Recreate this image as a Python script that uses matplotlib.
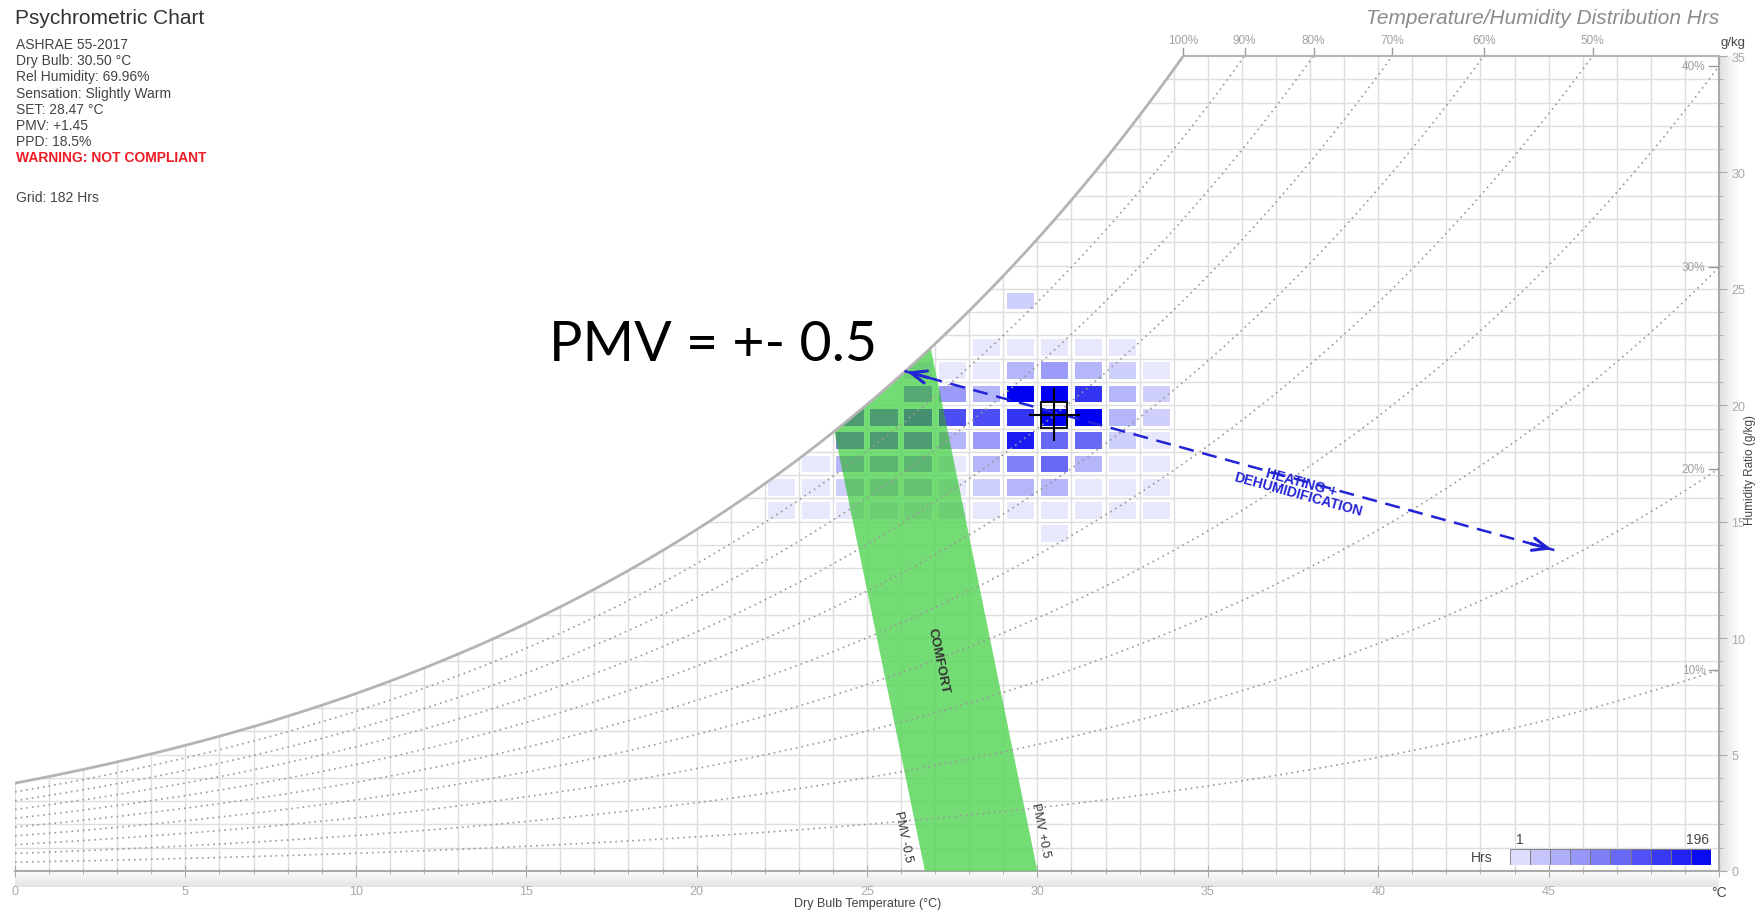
import numpy as np
import matplotlib
matplotlib.use("Agg")
import matplotlib.pyplot as plt
from matplotlib.colors import LinearSegmentedColormap, BoundaryNorm, to_rgb
from matplotlib.patches import Polygon, Rectangle

W_PX, H_PX = 1756, 912
FONT = ["Liberation Sans", "DejaVu Sans"]
plt.rcParams["font.family"] = FONT

# ---- data ----
temp_cols = [22, 23, 24, 25, 26, 27, 28, 29, 30, 31, 32, 33]      # dry bulb bins (degC)
hum_rows = [24, 23, 22, 21, 20, 19, 18, 17, 16, 15, 14]           # humidity ratio bins (g/kg)
hours = [
    [0, 0, 0, 0, 0, 0, 0, 25, 0, 0, 0, 0],
    [0, 0, 0, 0, 0, 0, 0, 0, 0, 0, 0, 0],
    [0, 0, 0, 0, 0, 0, 10, 20, 20, 15, 10, 0],
    [0, 0, 0, 0, 10, 20, 20, 45, 70, 50, 30, 10],
    [0, 0, 0, 0, 70, 60, 40, 190, 185, 140, 55, 25],
    [0, 0, 80, 90, 100, 120, 125, 140, 180, 185, 50, 25],
    [0, 0, 90, 90, 90, 40, 60, 160, 100, 100, 35, 15],
    [0, 15, 45, 45, 45, 15, 50, 85, 100, 40, 15, 15],
    [15, 15, 25, 25, 25, 15, 25, 40, 40, 15, 10, 10],
    [8, 8, 10, 10, 10, 8, 10, 15, 20, 10, 8, 8],
    [0, 0, 0, 0, 0, 0, 0, 0, 15, 0, 0, 0],
]
hrs_min, hrs_max = 1, 196

rh_levels = [0.9, 0.8, 0.7, 0.6, 0.5, 0.4, 0.3, 0.2, 0.1]
top_rh_labels = [1.0, 0.9, 0.8, 0.7, 0.6, 0.5]
side_rh_labels = [0.4, 0.3, 0.2, 0.1]

pmv_minus = [(26.7, 0.0), (24.04, 18.9)]
pmv_plus = [(30.0, 0.0), (26.87, 22.4)]

point_t, point_w = 30.5, 19.6
arrow_start = (26.1, 21.47)
arrow_end = (45.17, 13.78)

info_lines = ["ASHRAE 55-2017", "Dry Bulb: 30.50 \u00b0C", "Rel Humidity: 69.96%",
              "Sensation: Slightly Warm", "SET: 28.47 \u00b0C", "PMV: +1.45", "PPD: 18.5%"]


def w_sat(t):
    pws = 0.61094 * np.exp(17.625 * t / (t + 243.04))
    return 622.0 * pws / (101.325 - pws)


fig = plt.figure(figsize=(W_PX / 100, H_PX / 100), dpi=100)
ax = fig.add_axes([15 / W_PX, 40 / H_PX, 1704 / W_PX, 815 / H_PX])
ax.set_xlim(0, 50)
ax.set_ylim(0, 35)

t_curve = np.linspace(0, 50, 1001)
ws_curve = w_sat(t_curve)
under_sat = Polygon([(0, 0)] + list(zip(t_curve, np.minimum(ws_curve, 35))) + [(50, 0)],
                    closed=True, transform=ax.transData)

# soft shadow right of / below the axes
shade = LinearSegmentedColormap.from_list("shade", ["#e2e2e2", "#ffffff"])
sax = fig.add_axes([1720 / W_PX, 40 / H_PX, 20 / W_PX, 815 / H_PX], zorder=-1)
sax.imshow(np.linspace(0, 1, 50)[None, :], cmap=shade, aspect="auto")
sax.axis("off")
bax = fig.add_axes([15 / W_PX, 24 / H_PX, 1704 / W_PX, 16 / H_PX], zorder=-1)
bax.imshow(np.linspace(1, 0, 50)[:, None], cmap=shade, aspect="auto")
bax.axis("off")
ax.patch.set_alpha(0)

# grid, only under the saturation curve
grid_c = "#dedede"
for t in range(0, 51):
    ax.plot([t, t], [0, min(w_sat(t), 35)], color=grid_c, lw=1, zorder=1)
for w in range(1, 35):
    t0 = np.interp(w, ws_curve, t_curve)
    ax.plot([t0, 50], [w, w], color=grid_c, lw=1, zorder=1)

# comfort zone
green = "#5cd65c"
green_eff = 0.85 * np.array(to_rgb(green)) + 0.15
t_top = np.linspace(pmv_minus[1][0], pmv_plus[1][0], 30)
poly = [pmv_minus[0]] + [(t, w_sat(t)) for t in t_top] + [pmv_plus[0]]
comfort = Polygon(poly, closed=True, facecolor=green, edgecolor="none", alpha=0.85, zorder=3)
ax.add_patch(comfort)
comfort_clip = Polygon(poly, closed=True, transform=ax.transData)

# heatmap cells (tinted onto the comfort zone where they overlap)
cmap = LinearSegmentedColormap.from_list("hrs", ["#e8e8fc", "#0000f2"])
bounds = np.linspace(hrs_min, hrs_max, 11)
norm = BoundaryNorm(bounds, cmap.N)
for i, w in enumerate(hum_rows):
    for j, t in enumerate(temp_cols):
        h = hours[i][j]
        if h <= 0:
            continue
        c = np.array(cmap(norm(h))[:3])
        r1 = Rectangle((t + 0.1, w + 0.12), 0.8, 0.72, facecolor=c, edgecolor="none", zorder=2)
        ax.add_patch(r1)
        r1.set_clip_path(under_sat)
        r2 = Rectangle((t + 0.1, w + 0.12), 0.8, 0.72, facecolor=c * green_eff,
                       edgecolor="none", alpha=0.5, zorder=3.5)
        ax.add_patch(r2)
        r2.set_clip_path(comfort_clip)

# RH curves
for r in rh_levels:
    ax.plot(t_curve, r * ws_curve, color="#999999", lw=1.2, ls=(0, (1, 2.4)), zorder=4)
ax.plot(t_curve, ws_curve, color="#b4b4b4", lw=2, zorder=4)
t35 = np.interp(35, ws_curve, t_curve)
ax.plot([t35, 50], [35, 35], color="#b4b4b4", lw=1.5, zorder=4, clip_on=False)

for r in top_rh_labels:
    tr = np.interp(35, r * ws_curve, t_curve)
    ax.plot([tr, tr], [35, 35.35], color="#999999", lw=1, clip_on=False)
    ax.text(tr, 35.7, f"{int(round(r * 100))}%", ha="center", va="center",
            fontsize=8.5, color="#a0a0a0")
for r in side_rh_labels:
    wr = r * w_sat(50)
    ax.plot([49.7, 49.95], [wr, wr], color="#999999", lw=1, zorder=5)
    ax.text(49.6, wr, f"{int(round(r * 100))}%", ha="right", va="center",
            fontsize=8.5, color="#a0a0a0", zorder=5)

# comfort labels
ax.text(27.1, 9.06, "COMFORT", rotation=-78.4, ha="center", va="center",
        fontsize=9.5, fontweight="bold", color="#333333", zorder=6)
ax.text(26.05, 1.5, "PMV -0.5", rotation=-78.4, ha="center", va="center",
        fontsize=9, color="#333333", zorder=6)
ax.text(30.1, 1.8, "PMV +0.5", rotation=-78.4, ha="center", va="center",
        fontsize=9, color="#333333", zorder=6)

# process arrow
blue = "#2323d6"
ax.plot([arrow_start[0], arrow_end[0]], [arrow_start[1], arrow_end[1]],
        color=blue, lw=1.8, ls=(0, (6, 3.5)), zorder=7)
dx = arrow_end[0] - arrow_start[0]
dy = arrow_end[1] - arrow_start[1]
for tip, sgn in [(arrow_end, -1), (arrow_start, 1)]:
    ax.annotate("", xy=tip, xytext=(tip[0] + sgn * dx * 0.04, tip[1] + sgn * dy * 0.04),
                arrowprops=dict(arrowstyle="->,head_length=1.1,head_width=0.45",
                                color=blue, lw=2.2), zorder=7)
ax.text(37.7, 16.45, "HEATING +\nDEHUMIDIFICATION", rotation=-15.4, ha="center",
        va="center", fontsize=10, fontweight="bold", color=blue, linespacing=0.85,
        rotation_mode="anchor", zorder=7)

# current point marker
ax.plot([point_t - 0.73, point_t + 0.73], [point_w, point_w], color="black", lw=1.5, zorder=8)
ax.plot([point_t, point_t], [point_w - 1.1, point_w + 1.1], color="black", lw=1.5, zorder=8)
ax.plot(point_t, point_w, marker="s", ms=19, mfc="none", mec="black", mew=1.3, zorder=8)

# axes
for s in ["left", "top"]:
    ax.spines[s].set_visible(False)
for s in ["bottom", "right"]:
    ax.spines[s].set_color("#aaaaaa")
    ax.spines[s].set_linewidth(1.5)
ax.set_xticks(range(0, 51, 5))
ax.set_xticks(range(0, 51, 1), minor=True)
ax.set_xticklabels([str(v) for v in range(0, 50, 5)] + ["\u00b0C"])
ax.yaxis.tick_right()
ax.set_yticks(range(0, 36, 5))
ax.set_yticks(range(0, 36, 1), minor=True)
ax.tick_params(axis="x", which="major", direction="inout", length=8, color="#aaaaaa",
               labelsize=9, labelcolor="#a8a8a8", pad=6)
ax.tick_params(axis="x", which="minor", direction="inout", length=5, color="#aaaaaa")
ax.tick_params(axis="y", which="major", direction="out", length=6, color="#aaaaaa",
               labelsize=9, labelcolor="#a8a8a8", pad=3)
ax.tick_params(axis="y", which="minor", direction="out", length=3, color="#aaaaaa")
for lbl in ax.get_xticklabels()[-1:]:
    lbl.set_color("#444444")
    lbl.set_fontsize(10)

ax.text(50.05, 35.6, "g/kg", ha="left", va="center", fontsize=9.5, color="#444444")
fig.text(868 / W_PX, 1 - 910 / H_PX, "Dry Bulb Temperature (\u00b0C)", ha="center",
         va="bottom", fontsize=9, color="#444444")
fig.text(1750.5 / W_PX, 1 - 470 / H_PX, "Humidity Ratio (g/kg)", ha="center",
         va="center", rotation=90, fontsize=8.5, color="#444444")

# headings and info block
fig.text(15 / W_PX, 1 - 18 / H_PX, "Psychrometric Chart", ha="left", va="center",
         fontsize=15, color="#333333")
fig.text(1719 / W_PX, 1 - 18 / H_PX, "Temperature/Humidity Distribution Hrs",
         ha="right", va="center", fontsize=15, style="italic", color="#8c8c8c")
for k, s in enumerate(info_lines):
    fig.text(16 / W_PX, 1 - (45 + 16.2 * k) / H_PX, s, ha="left", va="center",
             fontsize=10, color="#444444")
fig.text(16 / W_PX, 1 - 158 / H_PX, "WARNING: NOT COMPLIANT", ha="left", va="center",
         fontsize=10, fontweight="bold", color="#ee1c25")
fig.text(16 / W_PX, 1 - 198 / H_PX, "Grid: 182 Hrs", ha="left", va="center",
         fontsize=10, color="#444444")

ax.text(15.67, 21.94, "PMV = +- 0.5", ha="left", va="baseline", fontsize=40,
        family=["Lato", "DejaVu Sans"], color="black", zorder=9)

# legend bar
lax = fig.add_axes([1510 / W_PX, 1 - 866 / H_PX, 201 / W_PX, 16 / H_PX])
lax.set_xlim(0, 10)
lax.set_ylim(0, 1)
for k in range(10):
    lax.add_patch(Rectangle((k, 0), 1, 1, facecolor=cmap((k + 0.5) / 10),
                            edgecolor="#777777", lw=0.6))
lax.axis("off")
fig.text(1493 / W_PX, 1 - 858 / H_PX, "Hrs", ha="right", va="center", fontsize=10,
         color="#444444")
fig.text(1516 / W_PX, 1 - 840 / H_PX, "1", ha="left", va="center", fontsize=10,
         color="#444444")
fig.text(1709 / W_PX, 1 - 840 / H_PX, "196", ha="right", va="center", fontsize=10,
         color="#444444")

fig.savefig("out.png", dpi=100, facecolor="white")
